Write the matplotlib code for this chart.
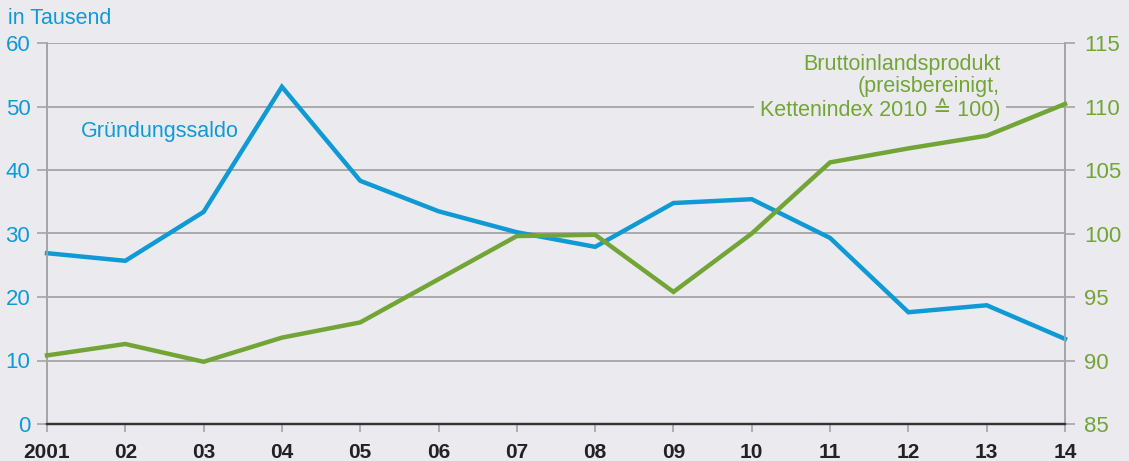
import matplotlib
import matplotlib.pyplot as plt

matplotlib.use("Agg")

plt.rcParams["font.family"] = ["Liberation Sans", "DejaVu Sans"]

years = [2001, 2002, 2003, 2004, 2005, 2006, 2007, 2008, 2009, 2010, 2011, 2012, 2013, 2014]
year_labels = ["2001", "02", "03", "04", "05", "06", "07", "08", "09", "10", "11", "12", "13", "14"]
gruendungssaldo = [26.9, 25.7, 33.4, 53.1, 38.3, 33.5, 30.2, 27.9, 34.8, 35.4, 29.3, 17.6, 18.7, 13.4]
bip = [90.4, 91.3, 89.9, 91.8, 93.0, 96.4, 99.8, 99.9, 95.4, 100.0, 105.6, 106.7, 107.7, 110.2]

BG = "#ebebef"
BLUE = "#0f9ad6"
GREEN = "#72a536"
GRID = "#a5a5a8"

fig = plt.figure(figsize=(11.29, 4.61), dpi=100, facecolor=BG)
ax = fig.add_axes([47 / 1129, 1 - 424 / 461, (1065 - 47) / 1129, (424 - 43) / 461])
ax.set_facecolor(BG)
ax2 = ax.twinx()

ax.set_xlim(2001, 2014)
ax.set_ylim(0, 60)
ax2.set_ylim(85, 115)

ax.set_yticks(range(0, 61, 10))
ax2.set_yticks(range(85, 116, 5))
ax.set_xticks(years)
ax.set_xticklabels(year_labels, fontsize=15, fontweight="bold", color="#222222")

ax.grid(axis="y", color=GRID, linewidth=1.3, zorder=0)
ax.set_axisbelow(True)

for a in (ax, ax2):
    a.spines["top"].set_visible(False)
    a.spines["left"].set_color(GRID)
    a.spines["right"].set_color(GRID)
    a.spines["left"].set_linewidth(1.2)
    a.spines["right"].set_linewidth(1.2)
    a.spines["bottom"].set_color("#333333")
    a.spines["bottom"].set_linewidth(1.6)

ax.tick_params(axis="y", colors=GRID, labelcolor=BLUE, labelsize=16, length=7, width=1.2, pad=5)
ax2.tick_params(axis="y", colors=GRID, labelcolor=GREEN, labelsize=16, length=7, width=1.2, pad=7)
ax.tick_params(axis="x", colors=GRID, length=6, width=1.2, pad=8)
for lbl in ax.get_xticklabels():
    lbl.set_color("#222222")

ax.plot(years, gruendungssaldo, color=BLUE, linewidth=3.2, solid_joinstyle="miter", zorder=3, clip_on=False)
ax2.plot(years, bip, color=GREEN, linewidth=3.2, solid_joinstyle="miter", zorder=3, clip_on=False)

fig.text(8 / 1129, 1 - 18 / 461, "in Tausend", color=BLUE, fontsize=15.5, va="center", ha="left")
ax.text(2002.44, 46.0, "Gründungssaldo", color=BLUE, fontsize=15.5, ha="center", va="center")
ax2.text(2013.17, 111.5, "Bruttoinlandsprodukt\n(preisbereinigt,\nKettenindex 2010 \u2259 100)",
         color=GREEN, fontsize=15.5, ha="right", va="center", linespacing=1.05,
         bbox=dict(facecolor=BG, edgecolor="none", pad=4), zorder=4)

fig.savefig("out.png", dpi=100, facecolor=BG)
